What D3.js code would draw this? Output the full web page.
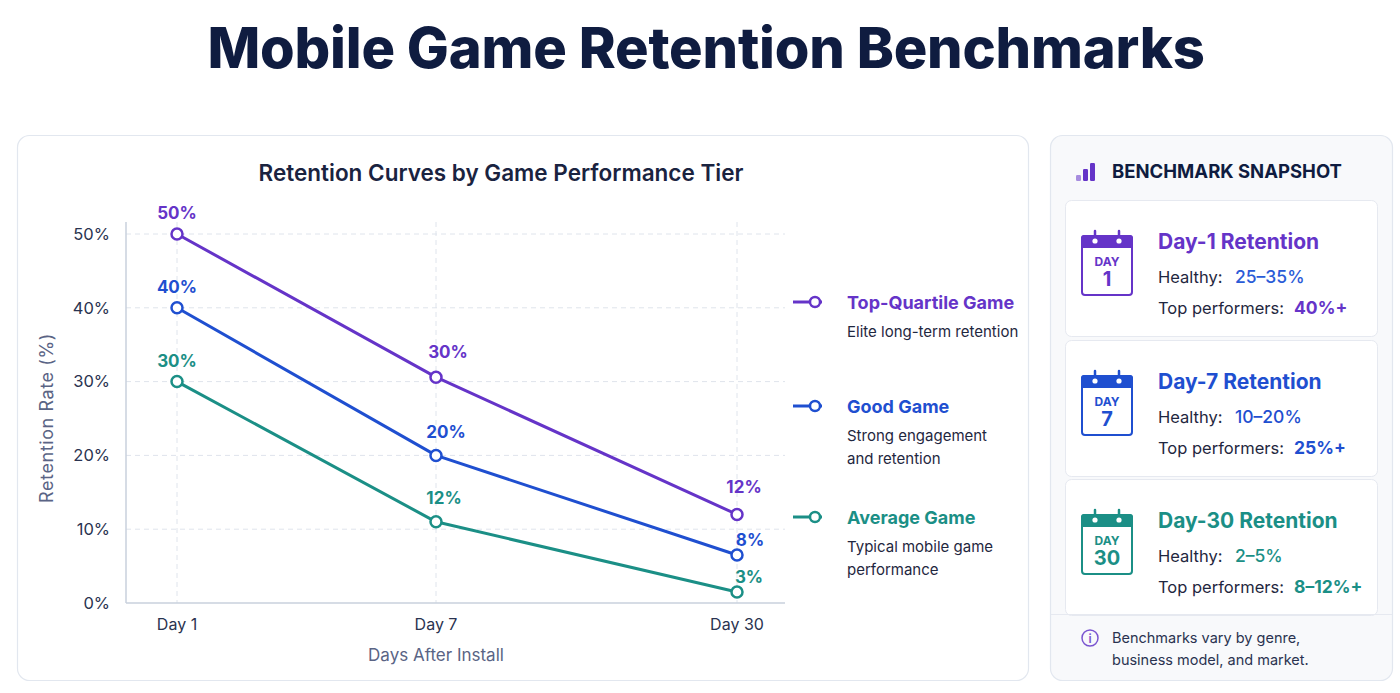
<!DOCTYPE html>
<html><head><meta charset="utf-8">
<script src="https://cdn.jsdelivr.net/npm/d3@7/dist/d3.min.js"></script>
<style>
html,body{margin:0;padding:0;background:#fff;}
svg{display:block;font-family:Inter,"Noto Sans",sans-serif;}
</style></head>
<body>
<svg id="c" width="1400" height="693"></svg>
<script>
// ---- data ----
const days = ["Day 1", "Day 7", "Day 30"];
const yTicks = [0, 10, 20, 30, 40, 50];
const seriesNames = ["Top-Quartile Game", "Good Game", "Average Game"];
const seriesDesc = [["Elite long-term retention"], ["Strong engagement", "and retention"], ["Typical mobile game", "performance"]];
const topQuartile = [50, 30.6, 12];
const goodGame = [40, 20, 6.5];
const averageGame = [30, 11, 1.5];
const topLabels = ["50%", "30%", "12%"];
const goodLabels = ["40%", "20%", "8%"];
const avgLabels = ["30%", "12%", "3%"];
const seriesColors = ["#6534c8", "#1f4fd0", "#1b8f86"];
const cardTitles = ["Day-1 Retention", "Day-7 Retention", "Day-30 Retention"];
const cardDayNums = ["1", "7", "30"];
const healthy = ["25–35%", "10–20%", "2–5%"];
const topPerf = ["40%+", "25%+", "8–12%+"];
const healthyColors = ["#2a5bd7", "#1f4fd0", "#1b8f86"];
const cardColors = ["#6534c8", "#1f4fd0", "#1b8f86"];

const svg = d3.select("#c");
const navy = "#0f1c40";

// title
svg.append("text").attr("x", 706).attr("y", 68).attr("text-anchor", "middle")
  .attr("font-size", 56).attr("font-weight", 800).attr("fill", navy)
  .attr("letter-spacing", "-0.2").text("Mobile Game Retention Benchmarks");

// panels
svg.append("rect").attr("x", 17.5).attr("y", 135.5).attr("width", 1011).attr("height", 545)
  .attr("rx", 12).attr("fill", "#fff").attr("stroke", "#e2e7ef").attr("stroke-width", 1.2);
svg.append("rect").attr("x", 1050.5).attr("y", 135.5).attr("width", 342).attr("height", 545)
  .attr("rx", 12).attr("fill", "#f8f9fb").attr("stroke", "#e2e7ef").attr("stroke-width", 1.2);

// chart title
svg.append("text").attr("x", 501).attr("y", 181).attr("text-anchor", "middle")
  .attr("font-size", 22.5).attr("font-weight", 600).attr("fill", "#1a2340")
  .text("Retention Curves by Game Performance Tier");

// scales
const x = d3.scaleLinear().domain([0, 1, 2]).range([177, 436, 737]);
const xi = d => x(days.indexOf(d));
const y = d3.scaleLinear().domain([0, 50]).range([603, 234]);
const plotLeft = 126, plotRight = 785, plotTop = 222;

const g = svg.append("g");
// grid
g.selectAll(".hg").data(yTicks.filter(t => t > 0)).join("line")
  .attr("x1", plotLeft).attr("x2", plotRight).attr("y1", d => y(d)).attr("y2", d => y(d))
  .attr("stroke", "#dfe4ec").attr("stroke-dasharray", "5,4").attr("stroke-width", 1);
g.selectAll(".vg").data(days).join("line")
  .attr("x1", d => xi(d)).attr("x2", d => xi(d)).attr("y1", plotTop).attr("y2", y(0))
  .attr("stroke", "#dfe4ec").attr("stroke-dasharray", "5,4").attr("stroke-width", 1);

// axes
const yAxis = d3.axisLeft(y).tickValues(yTicks).tickFormat(d => d + "%").tickSize(0).tickPadding(16);
const ya = svg.append("g").attr("transform", `translate(${plotLeft},0)`).call(yAxis);
ya.select(".domain").attr("stroke", "#c9d0dc").attr("stroke-width", 1.5).attr("d", `M0,${plotTop}V${y(0)}`);
ya.selectAll("text").attr("font-size", 16.5).attr("fill", "#2a3350").attr("font-family", "Inter");

const xa = svg.append("g").attr("transform", `translate(0,${y(0)})`);
xa.append("line").attr("x1", plotLeft).attr("x2", plotRight).attr("y1", 0).attr("y2", 0)
  .attr("stroke", "#c9d0dc").attr("stroke-width", 1.5);
xa.selectAll("text").data(days).join("text")
  .attr("x", d => xi(d)).attr("y", 27).attr("text-anchor", "middle")
  .attr("font-size", 16).attr("fill", "#2a3350").text(d => d);

svg.append("text").attr("x", 436).attr("y", 661).attr("text-anchor", "middle")
  .attr("font-size", 17).attr("fill", "#5a6485").text("Days After Install");
svg.append("text").attr("transform", "translate(53,418) rotate(-90)").attr("text-anchor", "middle")
  .attr("font-size", 18).attr("letter-spacing", "0.6").attr("fill", "#5a6485").text("Retention Rate (%)");

// series
const allSeries = [topQuartile, goodGame, averageGame];
const allLabels = [topLabels, goodLabels, avgLabels];
const line = d3.line().x((d, i) => x(i)).y(d => y(d));
// label offsets [dx, dy] per series per day
const labelOffsets = [
  [[0, -15], [12, -19], [7, -21]],
  [[0, -15], [10, -17], [13, -9]],
  [[0, -15], [8, -18], [12, -9]]
];
allSeries.forEach((s, k) => {
  const c = seriesColors[k];
  svg.append("path").datum(s).attr("d", line).attr("fill", "none")
    .attr("stroke", c).attr("stroke-width", 3).attr("stroke-linejoin", "round");
  svg.selectAll(null).data(s).join("circle")
    .attr("cx", (d, i) => x(i)).attr("cy", d => y(d)).attr("r", 5.5)
    .attr("fill", "#fff").attr("stroke", c).attr("stroke-width", 2.5);
  svg.selectAll(null).data(s).join("text")
    .attr("x", (d, i) => x(i) + labelOffsets[k][i][0])
    .attr("y", (d, i) => y(d) + labelOffsets[k][i][1])
    .attr("text-anchor", "middle").attr("font-size", 17).attr("font-weight", 700)
    .attr("fill", c).text((d, i) => allLabels[k][i]);
});

// legend
const legendY = [302, 406, 517];
seriesNames.forEach((n, k) => {
  const c = seriesColors[k], ly = legendY[k];
  const lg = svg.append("g");
  lg.append("line").attr("x1", 793).attr("x2", 822).attr("y1", ly).attr("y2", ly)
    .attr("stroke", c).attr("stroke-width", 3);
  lg.append("circle").attr("cx", 815).attr("cy", ly).attr("r", 5)
    .attr("fill", "#fff").attr("stroke", c).attr("stroke-width", 2.5);
  lg.append("text").attr("x", 847).attr("y", ly + 6.5).attr("font-size", 18).attr("font-weight", 700)
    .attr("fill", c).text(n);
  seriesDesc[k].forEach((t, j) => {
    lg.append("text").attr("x", 847).attr("y", ly + 35 + j * 23).attr("font-size", 15)
      .attr("fill", "#1f2740").text(t);
  });
});

// right panel header
const barIcon = [[1076, 6, 0.55], [1083, 12, 1], [1090, 18, 1]];
svg.selectAll(null).data(barIcon).join("rect")
  .attr("x", d => d[0]).attr("y", d => 181 - d[1]).attr("width", 5).attr("height", d => d[1])
  .attr("rx", 1.2).attr("fill", "#6534c8").attr("opacity", d => d[2]);
svg.append("text").attr("x", 1112).attr("y", 178).attr("font-size", 18.5).attr("font-weight", 700)
  .attr("fill", navy).text("BENCHMARK SNAPSHOT");

// cards
const cardTop = [200, 340, 479];
cardTitles.forEach((t, k) => {
  const cy = cardTop[k], col = cardColors[k];
  const cg = svg.append("g");
  cg.append("rect").attr("x", 1065.5).attr("y", cy + 0.5).attr("width", 312).attr("height", 136)
    .attr("rx", 6).attr("fill", "#fff").attr("stroke", "#e6e9f0");
  // calendar icon
  const ix = 1081, iy = cy + 35;
  cg.append("rect").attr("x", ix + 1).attr("y", iy + 1).attr("width", 50).attr("height", 59)
    .attr("rx", 3).attr("fill", "#fff").attr("stroke", col).attr("stroke-width", 2);
  cg.append("path").attr("d", `M${ix},${iy + 13}V${iy + 3}a3,3 0 0 1 3,-3H${ix + 49}a3,3 0 0 1 3,3V${iy + 13}Z`)
    .attr("fill", col);
  [14, 38].forEach(o => {
    cg.append("line").attr("x1", ix + o).attr("x2", ix + o).attr("y1", iy - 4).attr("y2", iy + 6)
      .attr("stroke", col).attr("stroke-width", 2.5).attr("stroke-linecap", "round");
    cg.append("circle").attr("cx", ix + o).attr("cy", iy + 6).attr("r", 2.6).attr("fill", "#fff");
  });
  cg.append("text").attr("x", ix + 26).attr("y", iy + 31).attr("text-anchor", "middle")
    .attr("font-size", 12).attr("font-weight", 700).attr("fill", col).text("DAY");
  cg.append("text").attr("x", ix + 26).attr("y", iy + 51).attr("text-anchor", "middle")
    .attr("font-size", 20).attr("font-weight", 700).attr("fill", col).text(cardDayNums[k]);
  // texts
  cg.append("text").attr("x", 1158).attr("y", cy + 49).attr("font-size", 21).attr("font-weight", 700)
    .attr("fill", col).text(t);
  const h = cg.append("text").attr("x", 1158).attr("y", cy + 83).attr("font-size", 16.5).attr("fill", "#1f2740");
  h.append("tspan").text("Healthy:");
  h.append("tspan").attr("x", 1235).attr("font-weight", 500).attr("font-size", 17.5)
    .attr("fill", healthyColors[k]).text(healthy[k]);
  const tp = cg.append("text").attr("x", 1158).attr("y", cy + 114).attr("font-size", 16.5).attr("fill", "#1f2740");
  tp.append("tspan").text("Top performers:");
  tp.append("tspan").attr("x", 1294).attr("font-weight", 700).attr("font-size", 17.5)
    .attr("fill", col).text(topPerf[k]);
});

// footer
svg.append("line").attr("x1", 1051).attr("x2", 1392).attr("y1", 614.5).attr("y2", 614.5).attr("stroke", "#e6e9f0");
svg.append("circle").attr("cx", 1090).attr("cy", 638).attr("r", 8).attr("fill", "none")
  .attr("stroke", "#7a55d0").attr("stroke-width", 1.5);
svg.append("text").attr("x", 1090).attr("y", 642.5).attr("text-anchor", "middle").attr("font-size", 12)
  .attr("font-weight", 600).attr("fill", "#7a55d0").text("i");
svg.append("text").attr("x", 1112).attr("y", 643).attr("font-size", 14.5).attr("fill", "#2a3350")
  .text("Benchmarks vary by genre,");
svg.append("text").attr("x", 1112).attr("y", 665).attr("font-size", 14.5).attr("fill", "#2a3350")
  .text("business model, and market.");
</script>
</body></html>
